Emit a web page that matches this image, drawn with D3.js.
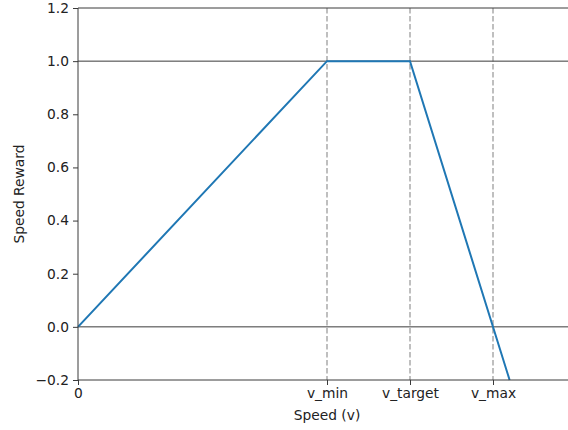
<!DOCTYPE html>
<html>
<head>
<meta charset="UTF-8" />
<script src="https://cdnjs.cloudflare.com/ajax/libs/d3/7.8.5/d3.min.js"></script>
<style>
  body { margin: 0; background: #fff; }
  svg { display: block; font-family: 'DejaVu Sans', sans-serif; }
</style>
</head>
<body>
<svg id="chart" width="568" height="430"></svg>
<script>
// reward curve points (speed, reward)
const speeds = [0, 3, 4, 5.2];
const rewards = [0, 1, 1, -0.2];
// named speed markers
const markerNames = ["v_min", "v_target", "v_max"];
const markerSpeeds = [3, 4, 5];
const yTicks = [-0.2, 0, 0.2, 0.4, 0.6, 0.8, 1.0, 1.2];
const hLines = [0, 1];

const svg = d3.select("#chart");
const x = d3.scaleLinear().domain([0, 6]).range([78, 576]);
const y = d3.scaleLinear().domain([-0.2, 1.2]).range([380, 8]);
const axisCol = "#3a3a3a";
const fs = 13.8;

// dashed markers
svg.selectAll("line.vmark").data(markerSpeeds).enter().append("line")
  .attr("x1", d => x(d)).attr("x2", d => x(d))
  .attr("y1", y(1.2)).attr("y2", y(-0.2))
  .attr("stroke", "#aaa").attr("stroke-width", 1.5)
  .attr("stroke-dasharray", "5.5,2.5");

// horizontal reference lines
svg.selectAll("line.h").data(hLines).enter().append("line")
  .attr("x1", x(0)).attr("x2", x(6))
  .attr("y1", d => y(d)).attr("y2", d => y(d))
  .attr("stroke", axisCol).attr("stroke-width", 1);

// curve
const pts = speeds.map((s, i) => [s, rewards[i]]);
svg.append("path")
  .datum(pts)
  .attr("fill", "none")
  .attr("stroke", "#1f77b4")
  .attr("stroke-width", 2)
  .attr("d", d3.line().x(d => x(d[0])).y(d => y(d[1])));

// top spine
svg.append("line").attr("x1", x(0)).attr("x2", x(6)).attr("y1", y(1.2)).attr("y2", y(1.2))
  .attr("stroke", axisCol).attr("stroke-width", 1);

// y axis
const yAxis = svg.append("g").attr("transform", `translate(${x(0)},0)`)
  .call(d3.axisLeft(y).tickValues(yTicks).tickSize(5).tickPadding(4)
    .tickFormat(d => d3.format(".1f")(d).replace("-", "\u2212")));
// x axis
const xAxis = svg.append("g").attr("transform", `translate(0,${y(-0.2)})`)
  .call(d3.axisBottom(x).tickValues([0].concat(markerSpeeds)).tickSize(5).tickPadding(3)
    .tickFormat((d, i) => i === 0 ? "0" : markerNames[i - 1]));
xAxis.select(".domain").attr("d", `M${x(0)},0H${x(6)}`);
[yAxis, xAxis].forEach(g => {
  g.select(".domain").attr("stroke", axisCol).attr("stroke-width", 1);
  g.selectAll(".tick line").attr("stroke", axisCol);
  g.selectAll("text").attr("font-size", fs).attr("fill", "#222")
    .attr("font-family", "'DejaVu Sans', sans-serif");
});
yAxis.select(".domain").attr("d", `M0,${y(1.2)}V${y(-0.2)}`);

// labels
svg.append("text").attr("x", x(3)).attr("y", 420).attr("text-anchor", "middle")
  .attr("font-size", fs).attr("fill", "#222").text("Speed (v)");
svg.append("text").attr("transform", `translate(24,${y(0.5)}) rotate(-90)`)
  .attr("text-anchor", "middle").attr("font-size", fs).attr("fill", "#222").text("Speed Reward");
</script>
</body>
</html>
